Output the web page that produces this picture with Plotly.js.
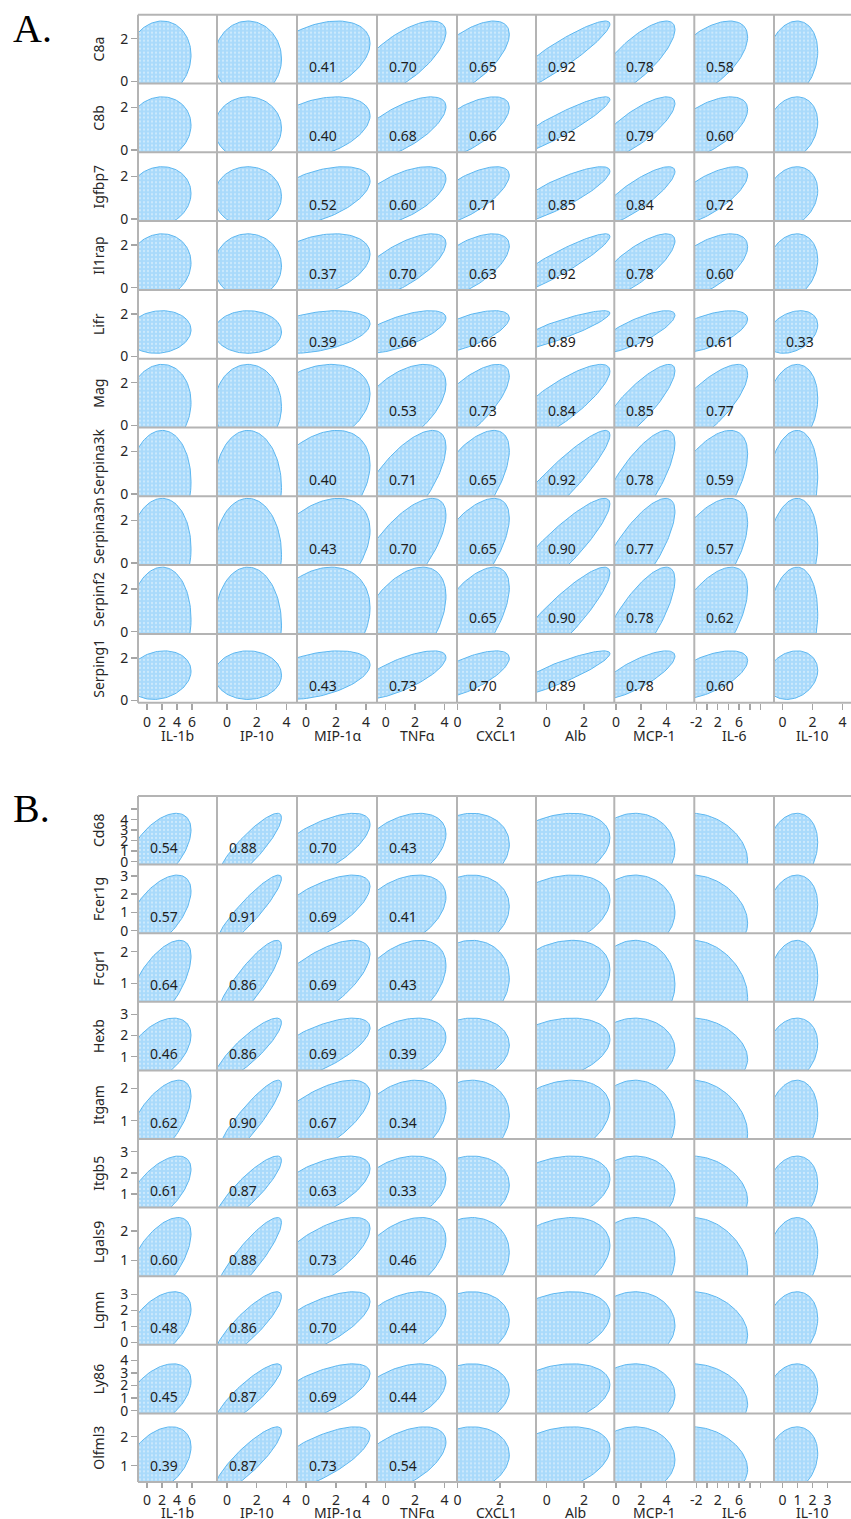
<!DOCTYPE html>
<html><head><meta charset="utf-8">
<script src="https://cdn.plot.ly/plotly-3.0.1.min.js"></script>
<style>body{margin:0;background:#fff}#chart{width:851px;height:1519px}</style>
</head><body><div id="chart"></div>
<script>
// ---------- DATA ----------
// column (x) variables: cytokines, with mean and ellipse half-extent (data units)
const cytokines = ['IL-1b','IP-10','MIP-1α','TNFα','CXCL1','Alb','MCP-1','IL-6','IL-10'];
const cytoMean   = [1.60, 1.41, 0.60, 0.97, 0.37, 0.39, 1.52, -0.30, 0.63];
const cytoSpread = [4.27, 2.26, 3.67, 3.13, 2.07, 2.99, 3.16, 7.90, 1.72];

// panel A rows (genes)
const genesA = ['C8a','C8b','Igfbp7','Il1rap','Lifr','Mag','Serpina3k','Serpina3n','Serpinf2','Serping1'];
const genesAMean   = [1.05, 1.03, 1.06, 1.02, 1.15, 0.88, 0.31, 0.40, 0.31, 1.19];
const genesASpread = [1.78, 1.47, 1.39, 1.51, 1.00, 1.98, 2.68, 2.63, 2.72, 1.14];
const corrA = [
  [0.10, 0.00, 0.41, 0.70, 0.65, 0.92, 0.78, 0.58, 0.20],
  [0.10, 0.00, 0.40, 0.68, 0.66, 0.92, 0.79, 0.60, 0.20],
  [0.10, 0.00, 0.52, 0.60, 0.71, 0.85, 0.84, 0.72, 0.20],
  [0.10, 0.00, 0.37, 0.70, 0.63, 0.92, 0.78, 0.60, 0.20],
  [0.10, 0.00, 0.39, 0.66, 0.66, 0.89, 0.79, 0.61, 0.33],
  [0.10, 0.00, 0.30, 0.53, 0.73, 0.84, 0.85, 0.77, 0.20],
  [0.10, 0.00, 0.40, 0.71, 0.65, 0.92, 0.78, 0.59, 0.20],
  [0.10, 0.00, 0.43, 0.70, 0.65, 0.90, 0.77, 0.57, 0.20],
  [0.10, 0.00, 0.30, 0.50, 0.65, 0.90, 0.78, 0.62, 0.20],
  [0.17, 0.00, 0.43, 0.73, 0.70, 0.89, 0.78, 0.60, 0.20]
];
const shownA = [
  [0,0,1,1,1,1,1,1,0],
  [0,0,1,1,1,1,1,1,0],
  [0,0,1,1,1,1,1,1,0],
  [0,0,1,1,1,1,1,1,0],
  [0,0,1,1,1,1,1,1,1],
  [0,0,0,1,1,1,1,1,0],
  [0,0,1,1,1,1,1,1,0],
  [0,0,1,1,1,1,1,1,0],
  [0,0,0,0,1,1,1,1,0],
  [0,0,1,1,1,1,1,1,0]
];

// panel B rows (genes)
const genesB = ['Cd68','Fcer1g','Fcgr1','Hexb','Itgam','Itgb5','Lgals9','Lgmn','Ly86','Olfml3'];
const genesBMean   = [1.15, 1.02, 0.97, 1.33, 0.98, 1.19, 1.06, 1.07, 1.26, 1.21];
const genesBSpread = [3.46, 2.02, 1.39, 1.49, 1.27, 1.60, 1.40, 2.09, 2.46, 1.13];
const corrB = [
  [0.54, 0.88, 0.70, 0.43, 0.15, 0.33, 0.00, -0.30, 0.20],
  [0.57, 0.91, 0.69, 0.41, 0.15, 0.33, 0.00, -0.30, 0.20],
  [0.64, 0.86, 0.69, 0.43, 0.15, 0.33, 0.00, -0.30, 0.20],
  [0.46, 0.86, 0.69, 0.39, 0.15, 0.33, 0.00, -0.30, 0.20],
  [0.62, 0.90, 0.67, 0.34, 0.15, 0.33, 0.00, -0.30, 0.20],
  [0.61, 0.87, 0.63, 0.33, 0.15, 0.33, 0.00, -0.30, 0.20],
  [0.60, 0.88, 0.73, 0.46, 0.15, 0.33, 0.00, -0.30, 0.20],
  [0.48, 0.86, 0.70, 0.44, 0.15, 0.33, 0.00, -0.30, 0.20],
  [0.45, 0.87, 0.69, 0.44, 0.15, 0.33, 0.00, -0.30, 0.20],
  [0.39, 0.87, 0.73, 0.54, 0.15, 0.33, 0.00, -0.30, 0.20]
];
const shownB = corrB.map(row => row.map((v, j) => j < 4 ? 1 : 0));

// tick labels
const xTicksA = [[0,2,4,6],[0,2,4],[0,2,4],[0,2,4],[0,2],[0,2],[0,2,4],[-2,0,2,4,6,8,10],[0,2,4]];
const xTicksB = [[0,2,4,6],[0,2,4],[0,2,4],[0,2,4],[0,2],[0,2],[0,2,4],[-2,0,2,4,6,8,10],[0,1,2,3]];
const il6Labels = ['-2','','2','','6','',''];
const yTicksA = genesA.map(() => [0,2]);
const yTicksB = [[0,1,2,3,4,5],[0,1,2,3],[1,2],[1,2,3],[1,2],[1,2,3],[1,2],[0,1,2,3],[0,1,2,3,4],[1,2]];
const cd68Labels = ['0','1','2','3','4',''];

// ---------- LAYOUT GEOMETRY (pixels) ----------
const W = 851, H = 1519;
const colEdges = [138, 217, 297, 377, 457, 536, 614.3, 694.3, 774, 851];
const xZeroPx  = [147, 227, 306, 385.7, 457.6, 546.7, 616, 707, 782.5];
const xPxUnit  = [7.5, 14.85, 15, 14.7, 21.2, 18.7, 12.6, 5.35, 15];
const panelTop = [14.7, 796], rowH = [68.8, 68.6];
const xTitleY = [735, 1512];
const xTickLen = [6, 5];
const letterY = [28.3, 808.3];
const yZeroA = Array.from({length:10}, (_, i) => 14.7 + 68.8*(i+1) - 2.2);
const yPxA = Array(10).fill(21.3);
const yZeroB = [861.7, 930.7, 1014.9, 1077.9, 1153.1, 1215.2, 1289.6, 1342.3, 1410.7, 1494.7];
const yPxB = [10.5, 18.3, 31.6, 21.2, 32.4, 21.2, 29.3, 16, 12.6, 29];

const FONT = 'Noto Sans';
const TXT = '#262626';
const frameColor = '#b4b4b4';
const tickColor = '#a6a6a6';

const panels = [
  {genes: genesA, mean: genesAMean, spread: genesASpread, corr: corrA, shown: shownA,
   xTicks: xTicksA, yTicks: yTicksA, yZero: yZeroA, yPx: yPxA, label: 'A.'},
  {genes: genesB, mean: genesBMean, spread: genesBSpread, corr: corrB, shown: shownB,
   xTicks: xTicksB, yTicks: yTicksB, yZero: yZeroB, yPx: yPxB, label: 'B.'}
];

const traces = [];
const layout = {
  width: W, height: H, margin: {l:0, r:0, t:0, b:0},
  paper_bgcolor: '#fff', plot_bgcolor: '#fff', showlegend: false, hovermode: false,
  font: {family: FONT, size: 14, color: TXT},
  annotations: [], shapes: []
};
const id = (p, n) => n === 1 ? p : p + n;
const key = (p, n) => p + 'axis' + (n === 1 ? '' : n);
const NPTS = 120;
const px2x = px => px / W, px2y = py => 1 - py / H;

panels.forEach((P, pi) => {
  const nr = P.genes.length, nc = cytokines.length;
  const xBase = pi * nc, yBase = pi * nr;
  const top0 = panelTop[pi], h = rowH[pi];
  const bottom = top0 + h * nr;
  // x axes
  for (let c = 0; c < nc; c++) {
    const L = colEdges[c], R = colEdges[c+1];
    const tv = P.xTicks[c];
    const tt = c === 7 ? il6Labels : tv.map(String);
    layout[key('x', xBase + c + 1)] = {
      domain: [px2x(L), px2x(R)],
      range: [(L - xZeroPx[c]) / xPxUnit[c], (R - xZeroPx[c]) / xPxUnit[c]],
      anchor: id('y', yBase + nr),
      showgrid: false, zeroline: false, showline: false,
      ticks: 'outside', ticklen: xTickLen[pi], tickwidth: 1.5, tickcolor: tickColor,
      tickmode: 'array', tickvals: tv, ticktext: tt, tickangle: 0,
      tickfont: {size: 14, color: TXT}, fixedrange: true
    };
    // x-axis title
    layout.annotations.push({
      xref: 'paper', yref: 'paper', x: px2x((L + R) / 2), y: px2y(xTitleY[pi]),
      xanchor: 'center', yanchor: 'middle', showarrow: false, borderpad: 0,
      text: cytokines[c], font: {size: 14, color: TXT}
    });
  }
  // y axes
  for (let r = 0; r < nr; r++) {
    const top = top0 + h * r, bot = top + h;
    const tv = P.yTicks[r];
    const tt = (pi === 1 && r === 0) ? cd68Labels : tv.map(String);
    layout[key('y', yBase + r + 1)] = {
      domain: [px2y(bot), px2y(top)],
      range: [(P.yZero[r] - bot) / P.yPx[r], (P.yZero[r] - top) / P.yPx[r]],
      anchor: id('x', xBase + 1),
      showgrid: false, zeroline: false, showline: false,
      ticks: 'outside', ticklen: 6, tickwidth: 1.5, tickcolor: tickColor,
      tickmode: 'array', tickvals: tv, ticktext: tt,
      tickfont: {size: 14, color: TXT},
      title: {text: P.genes[r], font: {size: 14, color: TXT}, standoff: 12},
      fixedrange: true
    };
  }
  // cell frame lines
  for (let r = 0; r <= nr; r++) {
    const y = top0 + h * r;
    layout.shapes.push({type: 'line', xref: 'paper', yref: 'paper',
      x0: px2x(colEdges[0]), x1: px2x(colEdges[nc]), y0: px2y(y), y1: px2y(y),
      line: {color: frameColor, width: 2}});
  }
  for (let c = 0; c < nc; c++) {
    layout.shapes.push({type: 'line', xref: 'paper', yref: 'paper',
      x0: px2x(colEdges[c]), x1: px2x(colEdges[c]), y0: px2y(top0), y1: px2y(bottom),
      line: {color: frameColor, width: 2}});
  }
  // density ellipses
  for (let r = 0; r < nr; r++) {
    for (let c = 0; c < nc; c++) {
      const rho = P.corr[r][c];
      const mx = cytoMean[c], ax = cytoSpread[c];
      const my = P.mean[r], ay = P.spread[r];
      const s = Math.sqrt(1 - rho * rho);
      const xs = [], ys = [];
      for (let k = 0; k <= NPTS; k++) {
        const t = 2 * Math.PI * k / NPTS;
        xs.push(mx + ax * Math.cos(t));
        ys.push(my + ay * (rho * Math.cos(t) + s * Math.sin(t)));
      }
      const xa = id('x', xBase + c + 1), ya = id('y', yBase + r + 1);
      traces.push({
        type: 'scatter', mode: 'lines', x: xs, y: ys, xaxis: xa, yaxis: ya,
        fill: 'toself', fillcolor: '#a9dafb',
        fillpattern: {shape: '.', size: 4, solidity: 0.25, fgcolor: '#cdeafd', bgcolor: '#a9dafb'},
        line: {color: '#5db7f0', width: 1}, hoverinfo: 'skip'
      });
      if (P.shown[r][c]) {
        layout.annotations.push({
          xref: xa + ' domain', yref: ya + ' domain', x: 0.125, y: 0.245,
          xanchor: 'left', yanchor: 'middle', showarrow: false,
          text: rho.toFixed(2), font: {size: 14, color: '#1e1e1e'}
        });
      }
    }
  }
  // panel letter
  layout.annotations.push({
    xref: 'paper', yref: 'paper', x: px2x(11), y: px2y(letterY[pi]),
    xanchor: 'left', yanchor: 'middle', showarrow: false, text: P.label,
    font: {family: 'Liberation Serif', size: 40, color: '#000'}
  });
});

Plotly.newPlot('chart', traces, layout, {staticPlot: true, displayModeBar: false});
</script>
</body></html>
